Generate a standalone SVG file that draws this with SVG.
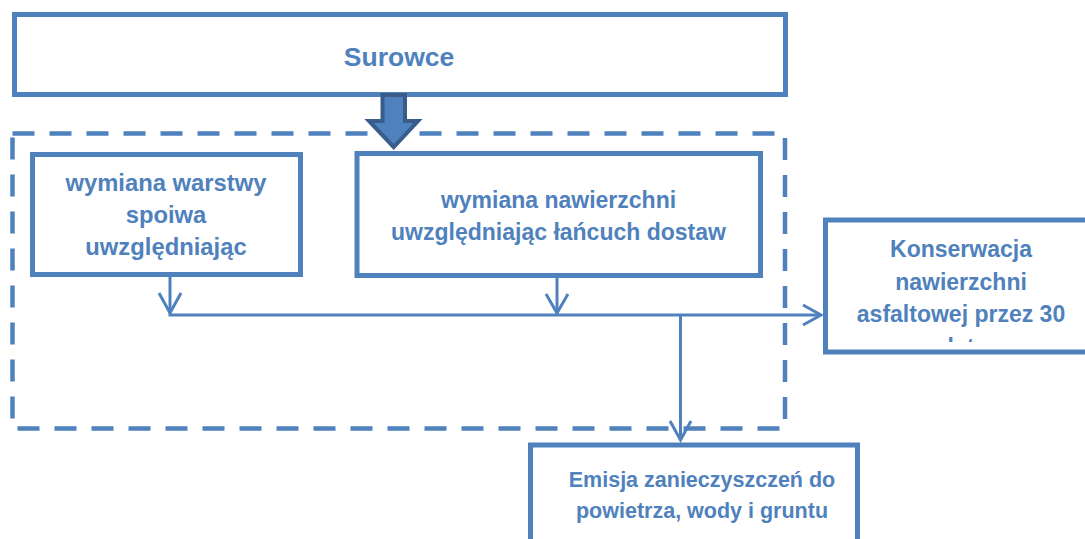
<svg xmlns="http://www.w3.org/2000/svg" width="1085" height="539" viewBox="0 0 1085 539">
<style>
.box{fill:#FFFFFF;stroke:#4F81BD;stroke-width:5}
.t{font-family:"Liberation Sans",Arial,sans-serif;font-weight:bold;font-size:23px;fill:#4F81BD;text-anchor:middle}
.c{fill:none;stroke:#4F81BD;stroke-width:3}
.h{fill:none;stroke:#4F81BD;stroke-width:3;stroke-linejoin:miter}
</style>
<defs>
<clipPath id="kclip"><rect x="828" y="223" width="257" height="119"/></clipPath>
</defs>
<rect width="1085" height="539" fill="#FFFFFF"/>
<g id="group-dashed">
<rect x="12.5" y="133.5" width="772.5" height="295" fill="none" stroke="#4F81BD" stroke-width="4.5" stroke-dasharray="22 15"/>
</g>
<g id="node-surowce">
<rect class="box" x="14.5" y="14.5" width="771" height="80"/>
<text class="t" x="399" y="66" style="font-size:26.5px">Surowce</text>
</g>
<g id="node-warstwa">
<rect class="box" x="32.5" y="154.5" width="268" height="120"/>
<text class="t" x="166" y="191" style="font-size:23.8px">wymiana warstwy</text>
<text class="t" x="166" y="223" style="font-size:23.8px">spoiwa</text>
<text class="t" x="166" y="255" style="font-size:23.8px">uwzględniając</text>
</g>
<g id="node-nawierzchnia">
<rect class="box" x="357" y="153.5" width="403.5" height="122"/>
<text class="t" x="558.5" y="208">wymiana nawierzchni</text>
<text class="t" x="558.5" y="240">uwzględniając łańcuch dostaw</text>
</g>
<g id="node-konserwacja">
<rect class="box" x="825.5" y="220" width="272" height="132"/>
<g clip-path="url(#kclip)">
<text class="t" x="961" y="257">Konserwacja</text>
<text class="t" x="961" y="290">nawierzchni</text>
<text class="t" x="961" y="322">asfaltowej przez 30</text>
<text class="t" x="961" y="355">lat</text>
</g>
</g>
<g id="node-emisja">
<rect class="box" x="530.5" y="445" width="327" height="110"/>
<text class="t" x="702" y="487" style="font-size:21.5px">Emisja zanieczyszczeń do</text>
<text class="t" x="702" y="518" style="font-size:21.5px">powietrza, wody i gruntu</text>
</g>
<g id="connectors">
<path d="M382.5 95 L405 95 L405 121 L418 121 L393.7 147 L369 121 L382.5 121 Z" fill="#4F81BD" stroke="#385D8A" stroke-width="4" stroke-linejoin="miter"/>
<path class="c" d="M170 277 L170 315 L821 315"/>
<path class="h" d="M159 293 L170 313 L181 293"/>
<path class="c" d="M557 278 L557 315"/>
<path class="h" d="M546 294 L557 313 L568 294"/>
<path class="h" d="M803 305 L821 315 L803 325"/>
<path class="c" d="M680.5 315 L680.5 440"/>
<path class="h" d="M670 421 L680.5 440 L691 421"/>
</g>
</svg>
